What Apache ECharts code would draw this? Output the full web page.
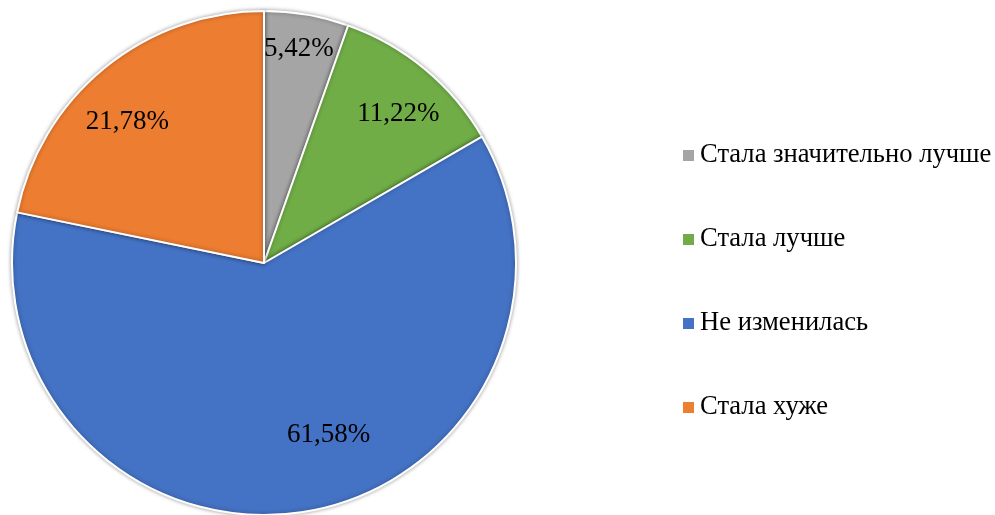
<!DOCTYPE html>
<html>
<head>
<meta charset="utf-8">
<script src="https://cdn.jsdelivr.net/npm/echarts@6/dist/echarts.min.js"></script>
<style>
  html, body { margin: 0; padding: 0; background: #fff; }
  #chart { width: 995px; height: 515px; }
</style>
</head>
<body>
<div id="chart"></div>
<script>
  var categories = ['Стала значительно лучше', 'Стала лучше', 'Не изменилась', 'Стала хуже'];
  var values = [5.42, 11.22, 61.58, 21.78];
  var colors = ['#A5A5A5', '#70AD47', '#4472C4', '#ED7D31'];
  // label nudges from the default inside spot
  var labelOffsets = [[13, -87], [52, -50], [44, 45], [-55, -41]];

  var pieData = categories.map(function (name, i) {
    return {
      name: name,
      value: values[i],
      itemStyle: { color: colors[i] },
      label: { offset: labelOffsets[i] }
    };
  });

  var chart = echarts.init(document.getElementById('chart'));
  chart.setOption({
    animation: false,
    legend: {
      orient: 'vertical',
      left: 676,
      top: 137,
      itemWidth: 13,
      itemHeight: 13,
      itemGap: 57,
      icon: 'rect',
      textStyle: {
        fontFamily: 'Liberation Serif',
        fontSize: 26.6,
        color: '#000'
      },
      data: categories
    },
    series: [{
      type: 'pie',
      center: [264, 263],
      radius: [0, 252],
      startAngle: 90,
      clockwise: true,
      avoidLabelOverlap: false,
      itemStyle: {
        borderColor: '#fff',
        borderWidth: 2,
        shadowBlur: 4,
        shadowColor: 'rgba(0,0,0,0.35)'
      },
      emphasis: { disabled: true },
      label: {
        show: true,
        position: 'inside',
        fontFamily: 'Liberation Serif',
        fontSize: 27,
        color: '#000',
        formatter: function (p) {
          return p.value.toFixed(2).replace('.', ',') + '%';
        }
      },
      labelLine: { show: false },
      data: pieData
    }]
  });
</script>
</body>
</html>
